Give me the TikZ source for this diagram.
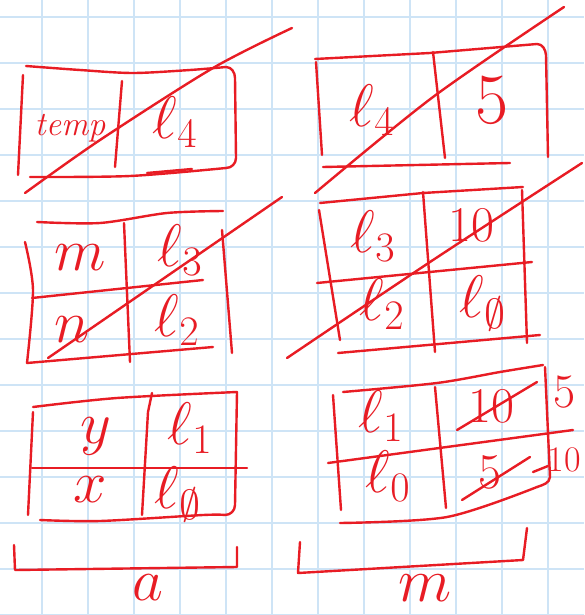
\RequirePackage{fix-cm}
\documentclass[tikz,border=0pt]{standalone}
\definecolor{hred}{RGB}{232,28,36}
\definecolor{gridblue}{RGB}{206,228,246}
\tikzset{
  hand/.style={draw=hred, line width=2.4pt, line cap=round, line join=round},
  gridline/.style={draw=gridblue, line width=1.3pt},
  lbl/.style={text=hred, inner sep=0pt, font=\fontsize{60}{66}\selectfont},
  small/.style={lbl, font=\fontsize{44}{50}\selectfont},
  tiny/.style={lbl, font=\itshape\fontsize{34}{40}\selectfont}
}
\begin{document}
\begin{tikzpicture}[x=1pt,y=-1pt]
\useasboundingbox (0,0) rectangle (584,615);
\fill[white] (0,0) rectangle (584,615);
\foreach \gx in {42,88,...,590} \draw[gridline] (\gx,0) -- (\gx,615);
\foreach \gy in {17,63,...,615} \draw[gridline] (0,\gy) -- (584,\gy);

% ---------- box 1 : temp | l4
\draw[hand] plot[smooth] coordinates {(26,66) (80,70) (133,73) (190,70) (226,67)} to[out=0,in=90] (235,78) -- (236,158) to[out=-90,in=0] (226,168);
\draw[hand] plot[smooth] coordinates {(30,177) (130,176) (226,168)};
\draw[hand] (23,75) -- (18,175);
\draw[hand] (122,81) -- (115,167);
\draw[hand] (147,173) -- (192,169);
\node[tiny] (temp) at (70,128) {temp};
\node[lbl] (b1l) at (175,122) {$\ell_4$};
\draw[hand] plot[smooth] coordinates {(25,193) (100,140) (213,68) (292,28)};

% ---------- box 2 : l4 | 5
\draw[hand] (315,59) -- (430,53) -- (537,44) to[out=0,in=95] (546,55) -- (548,157);
\draw[hand] (316,62) -- (322,155);
\draw[hand] (433,52) -- (445,158);
\draw[hand] (323,167) -- (510,163);
\node[lbl] (b2l) at (372,110) {$\ell_4$};
\node[lbl, font=\fontsize{72}{80}\selectfont] (b2v) at (492,100) {5};
\draw[hand] plot[smooth] coordinates {(315,193) (433,97) (564,7)};

% ---------- box 3 : m | l3 / n | l2
\draw[hand] plot[smooth] coordinates {(37,222) (100,223) (167,213) (223,211)};
\draw[hand] plot[smooth] coordinates {(25,242) (33,290) (27,363)};
\draw[hand] (27,363) -- (213,347);
\draw[hand] (32,298) -- (203,280);
\draw[hand] (124,223) -- (130,362);
\draw[hand] (222,230) -- (232,353);
\node[lbl] (m1) at (80,258) {$m$};
\node[lbl] (n1) at (72,330) {$n$};
\node[lbl] (b3a) at (180,250) {$\ell_3$};
\node[lbl] (b3b) at (177,320) {$\ell_2$};
\draw[hand] (48,358) -- (282,197);

% ---------- box 4 : l3 | 10 / l2 | l0
\draw[hand] (320,203) -- (423,193) -- (523,187);
\draw[hand] (319,210) -- (340,340);
\draw[hand] (522,190) -- (527,343);
\draw[hand] (423,192) -- (435,352);
\draw[hand] (317,283) -- (532,262);
\draw[hand] (338,353) -- (540,335);
\node[lbl] (b4a) at (373,236) {$\ell_3$};
\node[lbl, font=\fontsize{50}{56}\selectfont] (b4b) at (471,225) {10};
\node[lbl] (b4c) at (382,304) {$\ell_2$};
\node[lbl] (b4d) at (483,303) {$\ell_{\emptyset}$};
\draw[hand] plot[smooth] coordinates {(287,358) (430,262) (582,163)};

% ---------- box 5 : y | l1 / x | l0
\draw[hand] plot[smooth] coordinates {(33,407) (117,398) (237,392)};
\draw[hand] (33,412) -- (28,515);
\draw[hand] (237,392) -- (235,505) to[out=-90,in=0] (225,515);
\draw[hand] plot[smooth] coordinates {(40,520) (100,521) (203,515) (225,515)};
\draw[hand] (32,468) -- (247,468);
\draw[hand] (152,393) -- (148,412) -- (142,515);
\node[lbl] (y1) at (96,436) {$y$};
\node[lbl] (b5a) at (190,428) {$\ell_1$};
\node[lbl] (x1) at (90,490) {$x$};
\node[lbl] (b5b) at (178,494) {$\ell_{\emptyset}$};

% bracket a
\draw[hand] (14,545) -- (15,570) -- (237,567) -- (237,547);
\node[lbl] (la) at (148,588) {$a$};

% ---------- box 6 : l1 | 10 5 / l0 | 5 10
\draw[hand] plot[smooth] coordinates {(343,392) (437,383) (500,372) (543,365)};
\draw[hand] (333,395) -- (341,510);
\draw[hand] (545,367) -- (550,477) to[out=-95,in=20] (537,487);
\draw[hand] plot[smooth] coordinates {(340,523) (447,517) (537,487)};
\draw[hand] (328,463) -- (573,430);
\draw[hand] (435,387) -- (446,508);
\node[lbl] (b6a) at (381,416) {$\ell_1$};
\node[lbl, font=\fontsize{50}{56}\selectfont] (b6b) at (491,406) {10};
\draw[hand] (457,430) -- (537,382);
\node[lbl, font=\fontsize{48}{54}\selectfont] (b6c) at (565,392) {5};
\node[lbl] (b6d) at (388,476) {$\ell_0$};
\node[lbl, font=\fontsize{50}{56}\selectfont] (b6e) at (490,472) {5};
\draw[hand] (462,500) -- (530,457);
\draw[hand] (533,472) -- (548,466);
\node[lbl, font=\fontsize{36}{42}\selectfont] (b6f) at (564,460) {10};

% bracket m
\draw[hand] (300,542) -- (298,573) -- (523,560) -- (527,528);
\node[lbl, font=\fontsize{62}{68}\selectfont] (lm) at (425,588) {$m$};
\end{tikzpicture}
\end{document}
